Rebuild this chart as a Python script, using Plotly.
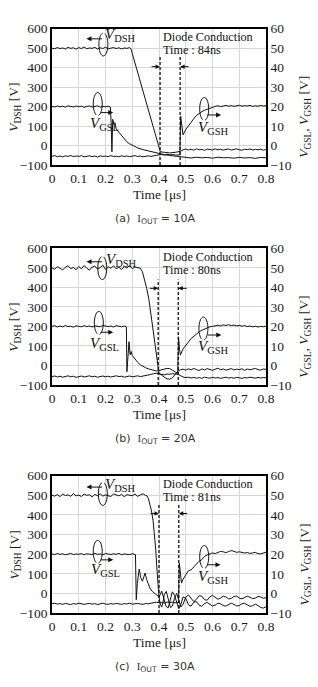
import math
import plotly.graph_objects as go

# ---------------- data (time in us, V_DSH in V on left axis, gate voltages in V on right axis)
A_DSH = [(0.00,500),(0.01,497),(0.02,503),(0.03,498),(0.04,501),(0.05,496),(0.06,504),(0.07,499),(0.08,502),(0.09,495),
(0.10,503),(0.11,498),(0.12,506),(0.13,497),(0.14,501),(0.15,499),(0.16,504),(0.17,496),(0.18,502),(0.19,498),
(0.20,505),(0.21,497),(0.22,500),(0.23,503),(0.24,498),(0.25,502),(0.26,496),(0.27,501),(0.28,499),(0.29,503),
(0.295,497),(0.31,425),(0.33,330),(0.35,235),(0.37,140),(0.39,45),(0.40,0),(0.405,-32),
(0.42,-35),(0.44,-38),(0.46,-35),(0.48,-30),
(0.49,-22),(0.50,-18),(0.51,-23),(0.52,-19),(0.53,-24),(0.54,-17),(0.55,-22),(0.56,-20),(0.57,-25),(0.58,-18),(0.59,-21),
(0.60,-23),(0.61,-17),(0.62,-22),(0.63,-19),(0.64,-24),(0.65,-20),(0.66,-18),(0.67,-23),(0.68,-21),(0.69,-17),
(0.70,-22),(0.71,-24),(0.72,-19),(0.73,-21),(0.74,-18),(0.75,-23),(0.76,-20),(0.77,-22),(0.78,-19),(0.79,-24),(0.80,-21)]

A_GSL = [(0.00,20.1),(0.01,19.8),(0.02,20.3),(0.03,19.9),(0.04,20.2),(0.05,19.7),(0.06,20.4),(0.07,20.0),(0.08,19.8),(0.09,20.3),
(0.10,19.9),(0.11,20.2),(0.12,19.6),(0.13,20.1),(0.14,20.3),(0.15,19.8),(0.16,20.0),(0.17,20.4),(0.18,19.7),(0.19,20.1),
(0.20,19.9),(0.21,20.2),(0.218,19.8),(0.221,12.0),(0.224,-3.2),(0.227,13.5),(0.231,11.0),(0.235,11.8),(0.24,8.5),
(0.25,6.8),(0.26,4.8),(0.27,3.2),(0.28,1.9),(0.29,0.9),(0.30,0.2),(0.31,-0.6),(0.32,-1.2),(0.34,-2.1),(0.36,-2.8),
(0.38,-3.5),(0.40,-4.2),(0.42,-4.7),(0.44,-5.1),(0.46,-5.5),(0.48,-5.9),(0.50,-6.1),(0.52,-6.4),(0.54,-6.0),(0.56,-6.3),
(0.58,-6.1),(0.60,-6.5),(0.62,-6.0),(0.64,-6.3),(0.66,-6.2),(0.68,-6.5),(0.70,-6.1),(0.72,-6.4),(0.74,-6.2),(0.76,-6.6),
(0.78,-6.1),(0.80,-6.3)]

A_GSH = [(0.00,-5.5),(0.01,-5.2),(0.02,-5.7),(0.03,-5.4),(0.04,-5.8),(0.05,-5.3),(0.06,-5.6),(0.07,-5.1),(0.08,-5.7),(0.09,-5.4),
(0.10,-5.6),(0.11,-5.2),(0.12,-5.8),(0.13,-5.5),(0.14,-5.3),(0.15,-5.7),(0.16,-5.4),(0.17,-5.9),(0.18,-5.3),(0.19,-5.6),
(0.20,-5.4),(0.21,-5.7),(0.22,-5.2),(0.23,-5.6),(0.24,-5.5),(0.25,-5.8),(0.26,-5.3),(0.27,-5.6),(0.28,-5.4),(0.29,-5.7),
(0.30,-5.5),(0.31,-5.2),(0.32,-5.6),(0.33,-5.4),(0.34,-5.8),(0.35,-5.5),(0.36,-5.3),(0.37,-5.6),(0.38,-5.2),(0.39,-5.0),
(0.40,-4.8),(0.41,-4.6),(0.42,-4.9),(0.43,-4.5),(0.44,-4.8),(0.45,-4.6),(0.46,-4.9),(0.47,-4.7),(0.478,-4.8),
(0.481,15.0),(0.486,9.0),(0.490,5.5),(0.50,8.2),(0.51,10.2),(0.52,12.0),(0.53,13.8),(0.54,15.4),(0.55,16.5),(0.56,17.4),
(0.57,18.1),(0.58,18.7),(0.59,19.3),(0.60,19.8),(0.61,20.1),(0.62,20.4),(0.63,20.0),(0.64,20.3),(0.65,20.6),(0.66,20.2),
(0.67,20.5),(0.68,20.1),(0.69,20.4),(0.70,20.7),(0.71,20.2),(0.72,20.5),(0.73,20.3),(0.74,20.6),(0.75,20.1),(0.76,20.4),
(0.77,20.2),(0.78,20.6),(0.79,20.3),(0.80,20.4)]

B_DSH = [(0.00,500),(0.01,493),(0.02,506),(0.03,497),(0.04,489),(0.05,503),(0.06,511),(0.07,496),(0.08,502),(0.09,490),
(0.10,507),(0.11,495),(0.12,512),(0.13,498),(0.14,488),(0.15,504),(0.16,509),(0.17,494),(0.18,501),(0.19,514),
(0.20,492),(0.21,505),(0.22,498),(0.23,510),(0.24,495),(0.25,503),(0.26,491),(0.27,507),(0.28,499),(0.29,512),
(0.30,496),(0.31,504),(0.32,500),(0.33,498),
(0.338,480),(0.346,440),(0.354,395),(0.362,340),(0.370,260),(0.380,150),(0.390,40),(0.397,-25),(0.40,-40),
(0.41,-50),(0.42,-62),(0.43,-69),(0.44,-70),(0.45,-63),(0.46,-46),(0.47,-30),(0.48,-22),
(0.49,-19),(0.50,-24),(0.51,-17),(0.52,-22),(0.53,-15),(0.54,-21),(0.55,-26),(0.56,-18),(0.57,-23),(0.58,-16),
(0.59,-20),(0.60,-25),(0.61,-19),(0.62,-14),(0.63,-22),(0.64,-18),(0.65,-24),(0.66,-20),(0.67,-16),(0.68,-23),
(0.69,-19),(0.70,-21),(0.71,-17),(0.72,-25),(0.73,-18),(0.74,-22),(0.75,-20),(0.76,-15),(0.77,-21),(0.78,-24),
(0.79,-18),(0.80,-20)]

B_GSL = [(0.00,20.0),(0.01,20.4),(0.02,19.7),(0.03,20.2),(0.04,19.8),(0.05,20.5),(0.06,19.9),(0.07,20.1),(0.08,19.6),(0.09,20.3),
(0.10,20.0),(0.11,19.8),(0.12,20.4),(0.13,19.9),(0.14,20.2),(0.15,19.7),(0.16,20.3),(0.17,20.0),(0.18,19.8),(0.19,20.5),
(0.20,20.1),(0.21,19.9),(0.22,20.2),(0.23,19.7),(0.24,20.4),(0.25,20.0),(0.26,19.8),(0.27,20.2),(0.276,20.1),
(0.278,19.8),(0.280,-3.2),(0.284,5.0),(0.288,12.2),(0.292,5.5),(0.296,7.2),(0.30,5.2),(0.31,3.2),(0.32,1.6),(0.33,0.4),
(0.34,-0.5),(0.35,-1.2),(0.36,-1.7),(0.37,-2.2),(0.38,-2.6),(0.39,-2.8),(0.40,-2.6),(0.41,-2.2),(0.42,-1.8),(0.43,-1.5),
(0.44,-1.6),(0.45,-2.2),(0.46,-3.2),(0.47,-4.5),(0.48,-5.4),(0.49,-5.9),(0.50,-6.2),
(0.51,-6.0),(0.52,-6.4),(0.53,-6.1),(0.54,-6.5),(0.55,-6.2),(0.56,-6.6),(0.57,-6.0),(0.58,-6.3),(0.59,-6.5),(0.60,-6.1),
(0.61,-6.4),(0.62,-6.2),(0.63,-6.6),(0.64,-6.3),(0.65,-6.0),(0.66,-6.4),(0.67,-6.2),(0.68,-6.5),(0.69,-6.1),(0.70,-6.3),
(0.71,-6.6),(0.72,-6.2),(0.73,-6.4),(0.74,-6.0),(0.75,-6.3),(0.76,-6.5),(0.77,-6.1),(0.78,-6.4),(0.79,-6.2),(0.80,-6.3)]

B_GSH = [(0.00,-5.7),(0.01,-5.4),(0.02,-5.9),(0.03,-5.5),(0.04,-6.0),(0.05,-5.6),(0.06,-5.3),(0.07,-5.8),(0.08,-5.5),(0.09,-6.1),
(0.10,-5.6),(0.11,-5.4),(0.12,-5.9),(0.13,-5.7),(0.14,-5.3),(0.15,-5.8),(0.16,-5.5),(0.17,-6.0),(0.18,-5.6),(0.19,-5.4),
(0.20,-5.8),(0.21,-5.5),(0.22,-5.9),(0.23,-5.6),(0.24,-5.3),(0.25,-5.7),(0.26,-5.5),(0.27,-6.0),(0.28,-5.6),(0.29,-5.4),
(0.30,-5.8),(0.31,-5.6),(0.32,-5.3),(0.33,-5.7),(0.34,-5.5),(0.35,-5.2),(0.36,-5.0),(0.37,-4.6),(0.38,-4.2),(0.39,-4.0),
(0.40,-4.3),(0.41,-4.6),(0.42,-4.8),(0.43,-4.4),(0.44,-4.5),(0.45,-4.2),(0.46,-4.5),(0.470,-4.4),
(0.473,14.7),(0.477,8.0),(0.480,5.4),(0.49,8.5),(0.50,10.6),(0.51,12.0),(0.52,13.8),(0.53,15.0),(0.54,16.2),(0.55,17.2),
(0.56,18.0),(0.57,18.7),(0.58,19.3),(0.59,19.8),(0.60,20.0),
(0.61,20.3),(0.62,20.6),(0.63,20.2),(0.64,20.8),(0.65,20.5),(0.66,20.9),(0.67,20.4),(0.68,20.7),(0.69,20.3),(0.70,20.5),
(0.71,20.1),(0.72,20.4),(0.73,19.9),(0.74,20.2),(0.75,19.8),(0.76,20.1),(0.77,19.7),(0.78,20.0),(0.79,19.8),(0.80,20.1)]

C_DSH = [(0.00,500),(0.01,496),(0.02,504),(0.03,493),(0.04,507),(0.05,499),(0.06,502),(0.07,495),(0.08,509),(0.09,497),
(0.10,501),(0.11,494),(0.12,506),(0.13,500),(0.14,503),(0.15,492),(0.16,505),(0.17,498),(0.18,508),(0.19,496),
(0.20,502),(0.21,499),(0.22,494),(0.23,507),(0.24,501),(0.25,497),(0.26,505),(0.27,493),(0.28,503),(0.29,500),
(0.30,498),(0.31,506),(0.32,495),(0.33,502),(0.34,508),(0.35,499),
(0.355,497),(0.36,485),(0.365,462),(0.372,420),(0.378,370),(0.383,310),(0.388,220),(0.392,130),(0.396,40),(0.40,-20),
(0.405,-55),(0.41,-70),(0.415,-45),(0.42,-5),(0.427,10),(0.435,-25),(0.443,-72),(0.45,-65),(0.458,-25),(0.466,0),
(0.474,-35),(0.482,-70),(0.49,-55),(0.50,-20),(0.51,-8),(0.52,-28),(0.53,-42),(0.54,-30),(0.55,-12),(0.56,-14),
(0.57,-32),(0.58,-35),(0.59,-18),(0.60,-10),(0.61,-22),(0.62,-30),(0.63,-24),(0.64,-14),(0.65,-18),(0.66,-28),
(0.67,-26),(0.68,-16),(0.69,-14),(0.70,-24),(0.71,-28),(0.72,-20),(0.73,-14),(0.74,-20),(0.75,-27),(0.76,-24),
(0.77,-16),(0.78,-18),(0.79,-25),(0.80,-22)]

C_GSL = [(0.00,20.1),(0.01,19.8),(0.02,20.3),(0.03,19.9),(0.04,20.2),(0.05,19.7),(0.06,20.0),(0.07,20.4),(0.08,19.8),(0.09,20.1),
(0.10,19.9),(0.11,20.3),(0.12,19.7),(0.13,20.2),(0.14,20.0),(0.15,19.8),(0.16,20.4),(0.17,19.9),(0.18,20.1),(0.19,19.7),
(0.20,20.3),(0.21,20.0),(0.22,19.8),(0.23,20.2),(0.24,19.9),(0.25,20.4),(0.26,19.7),(0.27,20.1),(0.28,20.0),(0.29,19.8),
(0.30,20.2),(0.31,20.0),
(0.312,19.8),(0.315,-3.2),(0.319,5.0),(0.326,12.4),(0.332,8.0),(0.338,6.2),(0.343,8.5),(0.348,10.4),(0.354,7.0),(0.36,4.5),
(0.366,2.7),(0.375,1.0),(0.385,-0.2),(0.395,-1.2),(0.40,-1.8),(0.405,-0.5),(0.41,1.2),(0.418,-2.5),(0.426,-6.5),(0.434,-7.5),
(0.442,-3.5),(0.45,0.8),(0.458,-1.0),(0.466,-5.0),(0.474,-7.8),(0.482,-5.5),(0.49,-1.8),(0.50,-2.5),(0.51,-5.8),(0.52,-6.5),
(0.53,-4.5),(0.54,-4.2),(0.55,-6.0),(0.56,-6.6),(0.57,-5.2),(0.58,-4.6),(0.59,-5.5),(0.60,-6.4),(0.61,-6.0),(0.62,-5.0),
(0.63,-5.3),(0.64,-6.2),(0.65,-6.5),(0.66,-5.6),(0.67,-5.0),(0.68,-5.6),(0.69,-6.4),(0.70,-6.2),(0.71,-5.3),(0.72,-5.1),
(0.73,-5.9),(0.74,-6.6),(0.75,-6.3),(0.76,-5.5),(0.77,-6.2),(0.78,-7.2),(0.79,-7.5),(0.80,-6.8)]

C_GSH = [(0.00,-5.3),(0.01,-5.0),(0.02,-5.5),(0.03,-5.2),(0.04,-5.6),(0.05,-5.1),(0.06,-5.4),(0.07,-5.7),(0.08,-5.2),(0.09,-5.5),
(0.10,-5.0),(0.11,-5.4),(0.12,-5.6),(0.13,-5.3),(0.14,-5.1),(0.15,-5.5),(0.16,-5.2),(0.17,-5.7),(0.18,-5.3),(0.19,-5.0),
(0.20,-5.4),(0.21,-5.6),(0.22,-5.2),(0.23,-5.5),(0.24,-5.1),(0.25,-5.3),(0.26,-5.6),(0.27,-5.2),(0.28,-5.4),(0.29,-5.0),
(0.30,-5.5),(0.31,-5.3),(0.32,-5.1),(0.33,-5.4),(0.34,-5.6),(0.35,-5.2),(0.36,-5.3),(0.37,-5.0),(0.38,-4.7),(0.39,-4.5),
(0.40,-4.8),(0.41,-4.6),(0.42,-4.9),(0.43,-4.4),(0.44,-4.7),(0.45,-4.5),(0.46,-4.8),(0.47,-4.6),(0.473,-4.7),
(0.476,15.4),(0.480,8.0),(0.484,5.3),(0.49,7.2),(0.50,9.8),(0.51,11.6),(0.52,12.0),(0.53,13.6),(0.54,14.8),(0.55,16.4),
(0.56,17.2),(0.57,18.8),(0.58,19.6),(0.59,20.0),(0.60,20.6),(0.61,20.3),(0.62,21.0),(0.63,21.4),(0.64,21.2),(0.65,20.8),
(0.66,21.3),(0.67,21.8),(0.68,21.5),(0.69,20.9),(0.70,21.2),(0.71,21.0),(0.72,20.6),(0.73,20.8),(0.74,20.4),(0.75,20.6),
(0.76,20.9),(0.77,20.3),(0.78,20.1),(0.79,20.6),(0.80,21.0)]

X_TICKS = [0, 0.1, 0.2, 0.3, 0.4, 0.5, 0.6, 0.7, 0.8]
X_TICK_TEXT = ["0", "0.1", "0.2", "0.3", "0.4", "0.5", "0.6", "0.7", "0.8"]
YL_TICKS = [-100, 0, 100, 200, 300, 400, 500, 600]
YR_TICKS = [-10, 0, 10, 20, 30, 40, 50, 60]
CAPTIONS = ["(a)", "(b)", "(c)"]
CURRENTS = ["10A", "20A", "30A"]
CONDUCTION = ["84ns", "80ns", "81ns"]
DIODE_START = [0.404, 0.397, 0.400]
DIODE_END = [0.479, 0.472, 0.474]

PANELS = [(A_DSH, A_GSL, A_GSH), (B_DSH, B_GSL, B_GSH), (C_DSH, C_GSL, C_GSH)]

# ---------------- layout geometry (pixels)
W, H = 318, 687
ML, MR, MT, MB = 52, 52, 28, 74
PW = W - ML - MR
PH = H - MT - MB
BOX = [(28.7, 165.0), (248.3, 385.0), (475.7, 613.3)]  # top, bottom of each plot area


def py2paper(py):
    return (H - MB - py) / PH


def px2paper(px):
    return (px - ML) / PW


SERIF = "Liberation Serif"
INK = "#1a1a1a"
fig = go.Figure()
layout = dict(
    width=W, height=H, margin=dict(l=ML, r=MR, t=MT, b=MB),
    paper_bgcolor="white", plot_bgcolor="white", showlegend=False,
    font=dict(family=SERIF, size=13, color=INK),
)
annotations = []
shapes = []


def note(x, y, text, font, **kw):
    d = dict(x=x, y=y, xref="paper", yref="paper", text=text, showarrow=False, font=font,
             xanchor="center", yanchor="middle")
    d.update(kw)
    annotations.append(d)


# per-panel decoration placement (time, left-axis value)
DECOR = [
    dict(dsh_loop=(0.192, 519), dsh_arrow=(0.129, 548), dsh_lab=(0.257, 566),
         gsl_loop=(0.171, 213), gsl_arrow=(0.229, 169), gsl_lab=(0.195, 112),
         gsh_loop=(0.569, 188), gsh_arrow=(0.632, 157), gsh_lab=(0.602, 92),
         diode_y=405, dash_top=455),
    dict(dsh_loop=(0.188, 499), dsh_arrow=(0.129, 531), dsh_lab=(0.261, 540),
         gsl_loop=(0.175, 218), gsl_arrow=(0.229, 170), gsl_lab=(0.198, 110),
         gsh_loop=(0.566, 189), gsh_arrow=(0.633, 156), gsh_lab=(0.602, 95),
         diode_y=395, dash_top=440),
    dict(dsh_loop=(0.19, 507), dsh_arrow=(0.129, 542), dsh_lab=(0.257, 552),
         gsl_loop=(0.171, 212), gsl_arrow=(0.229, 171), gsl_lab=(0.200, 120),
         gsh_loop=(0.569, 186), gsh_arrow=(0.630, 146), gsh_lab=(0.604, 84),
         diode_y=407, dash_top=460),
]

for i in range(3):
    top, bot = BOX[i]
    n = i + 1
    xa = "xaxis" if n == 1 else f"xaxis{n}"
    ya = "yaxis" if n == 1 else f"yaxis{n}"
    yr = f"yaxis{n + 3}"
    xref = "x" if n == 1 else f"x{n}"
    yref = "y" if n == 1 else f"y{n}"
    yrref = f"y{n + 3}"
    dom = [max(0, py2paper(bot)), min(1, py2paper(top))]
    tf = dict(family=SERIF, size=13.5, color=INK)
    layout[xa] = dict(domain=[0, 1], range=[0, 0.8], tickvals=X_TICKS, ticktext=X_TICK_TEXT,
                      showgrid=True, gridcolor="#d6d6d6", gridwidth=1, zeroline=False,
                      showline=True, linecolor="black", linewidth=1.5, mirror=True,
                      anchor=yref, ticks="", tickfont=tf)
    layout[ya] = dict(domain=dom, range=[-100, 600], tickvals=YL_TICKS,
                      showgrid=True, gridcolor="#d6d6d6", gridwidth=1, zeroline=False,
                      showline=True, linecolor="black", linewidth=1.5,
                      anchor=xref, ticks="", tickfont=tf)
    layout[yr] = dict(range=[-10, 60], tickvals=YR_TICKS, overlaying=yref, side="right",
                      anchor=xref, showgrid=False, zeroline=False,
                      showline=True, linecolor="black", linewidth=1.5, ticks="",
                      tickfont=tf)

    dsh, gsl, gsh = PANELS[i]
    fig.add_trace(go.Scatter(x=[p[0] for p in dsh], y=[p[1] for p in dsh], mode="lines",
                             line=dict(color="#111", width=1), xaxis=xref, yaxis=yref, hoverinfo="skip"))
    fig.add_trace(go.Scatter(x=[p[0] for p in gsl], y=[p[1] for p in gsl], mode="lines",
                             line=dict(color="#111", width=1), xaxis=xref, yaxis=yrref, hoverinfo="skip"))
    fig.add_trace(go.Scatter(x=[p[0] for p in gsh], y=[p[1] for p in gsh], mode="lines",
                             line=dict(color="#111", width=1), xaxis=xref, yaxis=yrref, hoverinfo="skip"))

    # scale for decorations
    ppx = PW / 0.8            # px per us
    ppy = (bot - top) / 700.0  # px per V (left axis)
    d = DECOR[i]

    def loop(center, rx=4.5, ry=11.5, a0=70, a1=400):
        tc, vc = center
        pts = []
        for k in range(0, 34):
            a = math.radians(a0 + (a1 - a0) * k / 33)
            pts.append((tc + rx * math.cos(a) / ppx, vc + ry * math.sin(a) / ppy))
        path = "M " + " L ".join(f"{x:.5f},{y:.2f}" for x, y in pts)
        shapes.append(dict(type="path", path=path, xref=xref, yref=yref,
                           line=dict(color="#111", width=1)))

    loop(d["dsh_loop"], a0=100, a1=430)
    loop(d["gsl_loop"], a0=-80, a1=250)
    loop(d["gsh_loop"], a0=-80, a1=250)

    # axis-pointing arrows
    annotations.append(dict(x=d["dsh_arrow"][0], y=d["dsh_arrow"][1], xref=xref, yref=yref, text="",
                            showarrow=True, ax=17, ay=0, arrowhead=2, arrowsize=1, arrowwidth=1, arrowcolor="#111"))
    annotations.append(dict(x=d["gsl_arrow"][0], y=d["gsl_arrow"][1], xref=xref, yref=yref, text="",
                            showarrow=True, ax=-14, ay=0, arrowhead=2, arrowsize=1, arrowwidth=1, arrowcolor="#111"))
    annotations.append(dict(x=d["gsh_arrow"][0], y=d["gsh_arrow"][1], xref=xref, yref=yref, text="",
                            showarrow=True, ax=-15, ay=0, arrowhead=2, arrowsize=1, arrowwidth=1, arrowcolor="#111"))

    lab_font = dict(family=SERIF, size=15, color="#111")
    for key, txt in (("dsh_lab", "DSH"), ("gsl_lab", "GSL"), ("gsh_lab", "GSH")):
        annotations.append(dict(x=d[key][0], y=d[key][1], xref=xref, yref=yref,
                                text="<i>V</i><sub>" + txt + "</sub>", showarrow=False, font=lab_font,
                                xanchor="center", yanchor="middle"))

    # diode conduction markers
    for t in (DIODE_START[i], DIODE_END[i]):
        shapes.append(dict(type="line", xref=xref, yref=yref, x0=t, x1=t, y0=-100, y1=d["dash_top"],
                           line=dict(color="#111", width=1.3, dash="3px,2px")))
    annotations.append(dict(x=DIODE_START[i], y=d["diode_y"], xref=xref, yref=yref, text="",
                            showarrow=True, ax=-10, ay=0, arrowhead=2, arrowsize=0.9, arrowwidth=1, arrowcolor="#111"))
    annotations.append(dict(x=DIODE_END[i], y=d["diode_y"], xref=xref, yref=yref, text="",
                            showarrow=True, ax=10, ay=0, arrowhead=2, arrowsize=0.9, arrowwidth=1, arrowcolor="#111"))
    dfont = dict(family=SERIF, size=12.2, color="#111")
    note(px2paper(160.5), py2paper(top + 8.5), "Diode Conduction", dfont, xanchor="left")
    note(px2paper(160.5), py2paper(top + 21.5), "Time : " + CONDUCTION[i], dfont, xanchor="left")

    # axis titles
    afont = dict(family=SERIF, size=13.5, color=INK)
    note(px2paper(159), py2paper(bot + 29), "Time [μs]", afont)
    note(px2paper(15), py2paper((top + bot) / 2 + 11), "<i>V</i><sub>DSH</sub> [V]", afont, textangle=-90)
    note(px2paper(305), py2paper((top + bot) / 2 + 20),
         "<i>V</i><sub>GSL</sub>, <i>V</i><sub>GSH</sub> [V]", afont, textangle=-90)
    # caption
    note(px2paper(155), py2paper(bot + 54),
         CAPTIONS[i] + "  <span style='font-family:Liberation Serif'>I</span><sub>OUT</sub> = " + CURRENTS[i],
         dict(family="DejaVu Sans", size=11, color="#333"))

layout["annotations"] = annotations
layout["shapes"] = shapes
fig.update_layout(**layout)
fig.write_html("out.html")
